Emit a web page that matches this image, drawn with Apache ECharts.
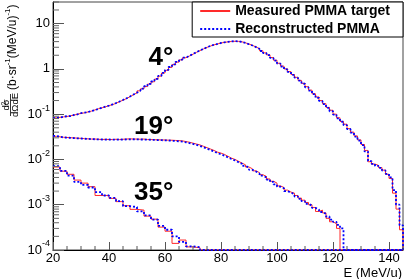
<!DOCTYPE html>
<html><head><meta charset="utf-8">
<script src="https://cdn.jsdelivr.net/npm/echarts@6/dist/echarts.min.js"></script>
<style>html,body{margin:0;padding:0;background:#fff}#c{width:407px;height:279px}</style>
</head><body><div id="c"></div>
<script>
// ---- data ----
const xStart = 20;
const xEnd = 145;
const yFloor = 1e-4;
const binW = 1.25;
const binW35 = 2.5;

const meas4 = [0.083,0.085,0.087,0.089,0.092,0.095,0.100,0.104,0.107,0.112,
0.117,0.124,0.132,0.138,0.145,0.155,0.162,0.174,0.188,0.204,
0.221,0.243,0.269,0.295,0.327,0.363,0.407,0.462,0.519,0.596,
0.69,0.81,0.93,1.08,1.24,1.41,1.58,1.76,1.93,2.11,
2.32,2.54,2.75,2.99,3.20,3.39,3.55,3.72,3.85,3.95,
4.03,4.07,4.05,3.96,3.76,3.53,3.31,3.05,2.79,2.51,
2.26,2.04,1.78,1.55,1.33,1.15,1.00,0.87,0.75,0.65,
0.556,0.479,0.405,0.339,0.282,0.240,0.200,0.170,0.141,0.122,
0.100,0.083,0.069,0.060,0.048,0.040,0.033,0.027,0.0214,0.0158,
0.0089,0.0079,0.0074,0.0066,0.0058,0.0047,0.0038,0.0018,0.0008,0.00028];

const reco4 = [0.082,0.084,0.088,0.090,0.091,0.096,0.099,0.105,0.108,0.111,
0.118,0.123,0.131,0.139,0.147,0.154,0.164,0.176,0.190,0.206,
0.224,0.246,0.272,0.299,0.331,0.368,0.413,0.468,0.527,0.604,
0.70,0.82,0.95,1.10,1.26,1.43,1.60,1.78,1.95,2.13,
2.34,2.56,2.77,3.01,3.22,3.41,3.57,3.74,3.87,3.97,
4.05,4.09,4.06,3.95,3.74,3.50,3.28,3.02,2.76,2.48,
2.23,2.01,1.75,1.52,1.31,1.13,0.98,0.855,0.74,0.64,
0.548,0.470,0.392,0.332,0.276,0.229,0.196,0.166,0.138,0.116,
0.098,0.081,0.068,0.057,0.047,0.039,0.032,0.026,0.0208,0.0150,
0.0092,0.0080,0.0072,0.0065,0.0057,0.0048,0.0040,0.0021,0.0010,0.00035];

const meas19 = [0.0324,0.0316,0.0309,0.0305,0.0302,0.0299,0.0295,0.0292,0.0288,0.0285,
0.0282,0.0282,0.0279,0.0275,0.0279,0.0275,0.0275,0.0279,0.0275,0.0279,
0.0282,0.0285,0.0282,0.0282,0.0279,0.0282,0.0275,0.0275,0.0272,0.0272,
0.0269,0.0269,0.0266,0.0266,0.0263,0.0260,0.0257,0.0248,0.0240,0.0229,
0.0219,0.0209,0.0195,0.0182,0.0170,0.0158,0.0145,0.0138,0.0129,0.0117,
0.0107,0.0100,0.0091,0.0083,0.0076,0.0068,0.0062,0.0056,0.0051,0.0046,
0.0042,0.0037,0.0033,0.0030,0.0026,0.0024,0.0021,0.0019,0.0018,0.0016,
0.0014,0.00126,0.00112,0.0010,0.00087,0.00071,0.00076,0.00066,0.0005,0.00042,
0.00038,0.0003];

const reco19 = [0.0330,0.0318,0.0306,0.0303,0.0300,0.0296,0.0293,0.0290,0.0287,0.0284,
0.0281,0.0279,0.0277,0.0276,0.0275,0.0276,0.0274,0.0275,0.0276,0.0275,
0.0277,0.0278,0.0279,0.0278,0.0276,0.0275,0.0273,0.0272,0.0270,0.0268,
0.0266,0.0264,0.0262,0.0259,0.0256,0.0252,0.0247,0.0239,0.0230,0.0220,
0.0209,0.0198,0.0186,0.0173,0.0161,0.0150,0.0138,0.0130,0.0121,0.0111,
0.0102,0.0095,0.0087,0.0080,0.0072,0.0066,0.0059,0.0054,0.0049,0.0044,
0.0040,0.0036,0.0032,0.0028,0.0025,0.0023,0.0020,0.00185,0.0017,0.00152,
0.00135,0.0012,0.00105,0.00095,0.00085,0.00078,0.00069,0.00063,0.00055,0.00047,
0.00042,0.00036,0.00030];

const meas35 = [0.0068,0.0055,0.0047,0.0035,0.0030,0.0025,0.0016,0.0016,0.00138,0.00117,
0.00095,0.00079,0.00076,0.00056,0.00048,0.00032,0.00026,0.00014,0.000166,0.000117,0.000112];
const reco35 = [0.0071,0.0056,0.0044,0.0032,0.00275,0.0024,0.0019,0.0016,0.00141,0.0012,
0.00093,0.00089,0.00071,0.00058,0.00047,0.00034,0.00028,0.0002,0.000151,0.00012,0.000115];

const legendNames = ['Measured PMMA target', 'Reconstructed PMMA'];
const angleLabels = ['4°', '19°', '35°'];
const angleLabelY = [1.75, 0.052, 0.00187];  // data-space anchor (value) for each angle label
const angleLabelX = 63;                       // data-space x anchor (MeV/u)
const xMinorTicks = [25,30,35,45,50,55,65,70,75,85,90,95,105,110,115,125,130,135,145];
const yMinorMult = [2,3,4,5,6,7,8,9];
const yDecades = [1e-4,1e-3,1e-2,1e-1,1];
const yMinorExtra = [20,30];
const yTitleParts = [['(b·sr', false], ['-1', true], ['(MeV/u)', false], ['-1', true], [')', false]];

// ---- build ----
const FONT = '"Liberation Sans", Arial, Helvetica, sans-serif';
function hist(vals, w) {
  const pts = vals.map((v, i) => [xStart + i * w, v]);
  const end = xStart + vals.length * w;
  pts.push([end, yFloor]);
  if (end < xEnd) pts.push([xEnd, yFloor]);
  return pts;
}
const yMinorTicks = [];
yDecades.forEach(d => yMinorMult.forEach(m => yMinorTicks.push(m * d)));
yMinorExtra.forEach(v => yMinorTicks.push(v));

const mctx = document.createElement('canvas').getContext('2d');
function tw(t, f) { mctx.font = f; return mctx.measureText(t).width; }
const titleChildren = [];
let lx = 26;
yTitleParts.forEach(([t, sup]) => {
  const f = (sup ? '8px ' : '12px ') + FONT;
  titleChildren.push({type:'text', x:lx, y: sup ? 8 : 13, style:{text:t, fill:'#000', font:f, align:'left', verticalAlign:'middle'}});
  lx += tw(t, f);
});
titleChildren.push({type:'text', x:11, y:6.5, style:{text:'dσ', fill:'#000', font:'9.5px ' + FONT, align:'center', verticalAlign:'middle'}});
titleChildren.push({type:'text', x:11 - tw('dσ', '9.5px ' + FONT)/2 + tw('d', '9.5px ' + FONT), y:3.8, style:{text:'2', fill:'#000', font:'6.5px ' + FONT, align:'left', verticalAlign:'middle'}});
titleChildren.push({type:'line', shape:{x1:0, y1:10.5, x2:22, y2:10.5}, style:{stroke:'#000', lineWidth:0.8}});
titleChildren.push({type:'text', x:11, y:15, style:{text:'dΩdE', fill:'#000', font:'9.5px ' + FONT, align:'center', verticalAlign:'middle'}});

const RED = '#ff2a2a', BLUE = '#0000ff';
function redS(data) { return {name: legendNames[0], type:'line', step:'end', data, symbol:'none', showSymbol:false, animation:false, clip:true, z:3,
  lineStyle:{color:RED, width:1}, itemStyle:{color:RED}}; }
function blueS(data) { return {name: legendNames[1], type:'line', step:'end', data, symbol:'none', showSymbol:false, animation:false, clip:true, z:4,
  lineStyle:{color:BLUE, width:1.8, type:[2,2]}, itemStyle:{color:BLUE}}; }

const chart = echarts.init(document.getElementById('c'), null, {renderer:'canvas'});
chart.setOption({
  animation:false,
  backgroundColor:'#fff',
  grid:{left:53, right:4, top:2, bottom:29, show:true, borderColor:'#444', borderWidth:1, containLabel:false, outerBoundsMode:'none'},
  legend:{
    data: legendNames, orient:'vertical', right:4, top:2,
    padding:[2,13,1,7], itemGap:4, itemWidth:30, itemHeight:14,
    backgroundColor:'#fff', borderColor:'#000', borderWidth:1, borderRadius:0,
    selectedMode:false,
    itemStyle:{opacity:0, borderWidth:0},
    textStyle:{fontFamily:FONT, fontSize:14, fontWeight:'bold', color:'#000'}
  },
  xAxis:{type:'value', min:xStart, max:xEnd, interval:20,
    axisLine:{show:true, onZero:false, lineStyle:{color:'#000', width:1}},
    axisTick:{show:true, inside:true, length:8, lineStyle:{color:'#555'}},
    axisLabel:{margin:2, color:'#000', fontSize:13, fontFamily:FONT, showMaxLabel:false},
    splitLine:{show:false}},
  yAxis:{type:'log', logBase:10, min:1e-4, max:30,
    axisLine:{show:true, onZero:false, lineStyle:{color:'#000', width:1}},
    axisTick:{show:true, inside:true, length:11, lineStyle:{color:'#555'}},
    splitLine:{show:false}, minorTick:{show:false},
    axisLabel:{margin:3, color:'#000', fontFamily:FONT, fontSize:13, showMaxLabel:false,
      formatter: v => { const e = Math.round(Math.log10(v)); if (e === 0) return '{b|1}'; if (e === 1) return '{b|10}'; return '{b|10}{s|' + e + '}'; },
      rich:{ b:{fontSize:13, fontFamily:FONT, color:'#000'}, s:{fontSize:9, fontFamily:FONT, color:'#000', padding:[0,0,12,0]} }}},
  series:[
    redS(hist(meas4, binW)), blueS(hist(reco4, binW)),
    redS(hist(meas19, binW)), blueS(hist(reco19, binW)),
    redS(hist(meas35, binW35)), blueS(hist(reco35, binW35)),
    {type:'custom', silent:true, animation:false, clip:false, z:5,
      data: yMinorTicks.map(v => [xStart, v]),
      renderItem:(p, api) => { const c = api.coord([api.value(0), api.value(1)]);
        return {type:'line', shape:{x1:c[0], y1:c[1], x2:c[0]+6, y2:c[1]}, style:{stroke:'#666', lineWidth:1}}; }},
    {type:'custom', silent:true, animation:false, clip:false, z:5,
      data: xMinorTicks.map(v => [v, yFloor]),
      renderItem:(p, api) => { const c = api.coord([api.value(0), api.value(1)]);
        return {type:'line', shape:{x1:c[0], y1:c[1], x2:c[0], y2:c[1]-4}, style:{stroke:'#555', lineWidth:1}}; }},
    {type:'custom', silent:true, animation:false, clip:false, z:6,
      data: angleLabels.map((t, i) => [angleLabelX, angleLabelY[i]]),
      renderItem:(p, api) => { const c = api.coord([api.value(0), api.value(1)]);
        return {type:'text', x:c[0], y:c[1], style:{text: angleLabels[p.dataIndex], fill:'#000', font:'bold 26px ' + FONT, align:'right', verticalAlign:'middle'}}; }}
  ],
  graphic:[
    {type:'text', x:402, y:273, style:{text:'E (MeV/u)', fill:'#000', font:'13px ' + FONT, align:'right', verticalAlign:'middle'}},
    {type:'group', x:0, y:116, rotation:Math.PI/2, children:titleChildren}
  ]
});
</script></body></html>
